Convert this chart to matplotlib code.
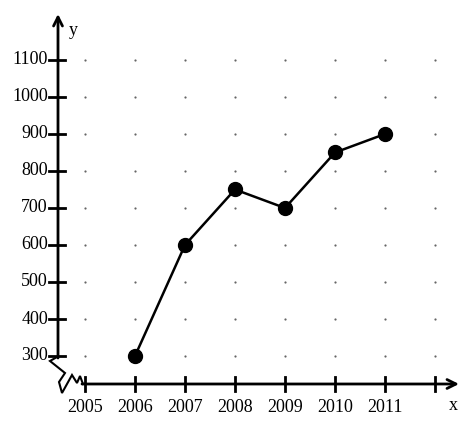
import matplotlib.pyplot as plt
import numpy as np

# data
years = [2006, 2007, 2008, 2009, 2010, 2011]
values = [300, 600, 750, 700, 850, 900]
x_ticks = [2005, 2006, 2007, 2008, 2009, 2010, 2011, 2012]
x_tick_labels = ["2005", "2006", "2007", "2008", "2009", "2010", "2011", ""]
y_ticks = [300, 400, 500, 600, 700, 800, 900, 1000, 1100]


def px(x, y):
    # picture pixels -> data units (50 px per year, 37 px per 100)
    return 2005 + (x - 85) / 50, 1100 - (y - 60) / 0.37


plt.rcParams["font.family"] = ["Liberation Serif", "DejaVu Serif"]

fig = plt.figure(figsize=(4.68, 4.29), dpi=100)
ax = fig.add_axes([0, 0, 1, 1])
x_min, y_max = px(0, 0)
x_max, y_min = px(468, 429)
ax.set_xlim(x_min, x_max)
ax.set_ylim(y_min, y_max)
ax.axis("off")

x_axis_y = px(0, 384)[1]
y_axis_x = px(58, 0)[0]

# dotted grid
gx, gy = np.meshgrid(x_ticks, y_ticks)
ax.plot(gx.ravel(), gy.ravel(), ls="none", marker="o", ms=1.6, color="#666666", mec="none")

# axes with arrows
ax.annotate("", xy=(y_axis_x, px(0, 14)[1]), xytext=(y_axis_x, px(0, 358)[1]),
            arrowprops=dict(arrowstyle="->", lw=2, color="black", mutation_scale=16,
                            shrinkA=0, shrinkB=0))
ax.annotate("", xy=(px(459, 0)[0], x_axis_y), xytext=(px(82, 0)[0], x_axis_y),
            arrowprops=dict(arrowstyle="->", lw=2, color="black", mutation_scale=16,
                            shrinkA=0, shrinkB=0))

# axis break zigzag
zig = [(57, 357), (50, 361), (65, 373), (59, 382), (62, 393), (72, 375), (77, 383), (80, 376), (83, 384)]
zx, zy = zip(*[px(a, b) for a, b in zig])
ax.plot(zx, zy, color="black", lw=1.5, solid_joinstyle="miter")

# ticks
tick_l, tick_r = px(49, 0)[0], px(65, 0)[0]
for v in y_ticks:
    ax.plot([tick_l, tick_r], [v, v], color="black", lw=2)
    ax.text(px(48, 0)[0], v, str(v), ha="right", va="center", fontsize=13)
tick_t, tick_b = px(0, 377)[1], px(0, 391)[1]
for x, lab in zip(x_ticks, x_tick_labels):
    ax.plot([x, x], [tick_t, tick_b], color="black", lw=2)
    ax.text(x, px(0, 408)[1], lab, ha="center", va="center", fontsize=13)

ax.text(*px(453, 406), "x", ha="center", va="center", fontsize=13)
ax.text(*px(73, 31), "y", ha="center", va="center", fontsize=13)

# the data line
ax.plot(years, values, color="black", lw=1.8, marker="o", ms=10)

fig.savefig("out.png", dpi=100)
